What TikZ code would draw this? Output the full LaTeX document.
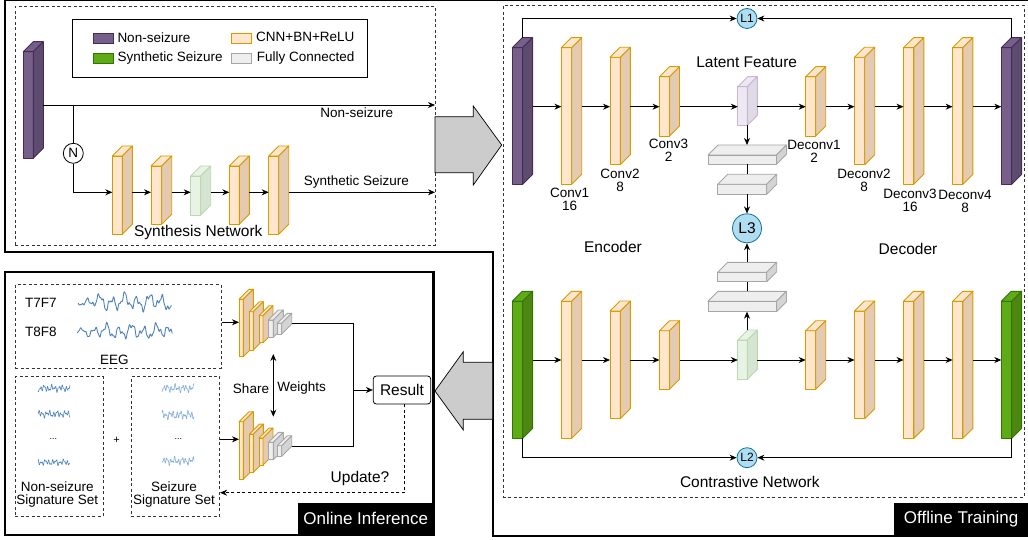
\documentclass[tikz,border=0pt]{standalone}
\usepackage{fontspec}
\setmainfont{Liberation Sans}
\usetikzlibrary{arrows.meta,fit,calc}
\definecolor{purF}{HTML}{76608A}\definecolor{purS}{HTML}{5E4C6E}\definecolor{purD}{HTML}{432D57}
\definecolor{grnF}{HTML}{60A917}\definecolor{grnS}{HTML}{4D8712}\definecolor{grnD}{HTML}{2D7600}
\definecolor{orF}{HTML}{FFE6CC}\definecolor{orS}{HTML}{E3CAB0}\definecolor{orD}{HTML}{D79B00}
\definecolor{fcF}{HTML}{EEEEEE}\definecolor{fcS}{HTML}{D4D4D4}\definecolor{fcD}{HTML}{A6A6A6}
\definecolor{lpF}{HTML}{EEE8F2}\definecolor{lpS}{HTML}{E0DAE4}\definecolor{lpD}{HTML}{C8B4D6}
\definecolor{lgF}{HTML}{E8F3E5}\definecolor{lgS}{HTML}{D6E4D2}\definecolor{lgD}{HTML}{B9DAAE}
\definecolor{lossF}{HTML}{B1DDF0}\definecolor{lossD}{HTML}{10739E}
\definecolor{arrG}{HTML}{CCCCCC}
\definecolor{waveA}{HTML}{4F82BA}\definecolor{waveB}{HTML}{86AEDA}
\newcommand{\fs}{\fontsize{13.5}{13}\selectfont}
\newcommand{\fb}{\fontsize{15.5}{17}\selectfont}
\newcommand{\fl}{\fontsize{17}{19}\selectfont}
% cuboid: name, front, side, draw, x1, y1, x2, y2, depth
\newcommand{\cub}[9]{%
  \filldraw[fill=#2, draw=#4, line width=0.9pt, line join=round] (#5,#6) rectangle (#7,#8);
  \filldraw[fill=#2, draw=#4, line width=0.9pt, line join=round] (#5,#6) -- ({#5+#9},{#6-#9}) -- ({#7+#9},{#6-#9}) -- (#7,#6) -- cycle;
  \filldraw[fill=#3, draw=#4, line width=0.9pt, line join=round] (#7,#6) -- ({#7+#9},{#6-#9}) -- ({#7+#9},{#8-#9}) -- (#7,#8) -- cycle;
  \node[fit={(#5,{#6-#9}) ({#7+#9},#8)}, inner sep=0pt, outer sep=0pt] (#1) {};
}
% EEG wave: x0, y0, width, amp, phase, color, lw
\newcommand{\wav}[7]{%
  \draw[#6, line width=#7, line join=round] plot[domain=0:#3, samples=240] ({#1+\x},{#2+#4*min(1,0.35+\x/40)*(0.6*sin(29*\x+#5)+0.3*sin(67*\x+3*#5)+0.25*sin(13*\x+2*#5)+0.12*sin(140*\x+#5))});
}
% small signature wave
\newcommand{\swav}[7]{%
  \draw[#6, line width=#7, line join=round] plot[domain=0:#3, samples=160] ({#1+\x},{#2+#4*(0.45*sin(97*\x+#5)+0.35*sin(173*\x+2*#5)+0.3*sin(41*\x+#5))});
}
\begin{document}
\begin{tikzpicture}[x=1pt,y=-1pt, font=\fs,
  arr/.style={-{Stealth[length=7pt,width=6pt]}, line width=0.8pt},
  conn/.style={line width=0.8pt},
  dbox/.style={draw=black!80, dash pattern=on 3pt off 2.5pt, line width=0.8pt},
  panel/.style={draw=black, line width=2.4pt, line join=miter},
  loss/.style={circle, draw=lossD, fill=lossF, line width=0.8pt, inner sep=0pt, minimum size=20pt, font=\fontsize{12}{12}\selectfont},
  lbl/.style={align=center, inner sep=0pt},
  big/.style={font=\fb, inner sep=0pt},
  tag/.style={fill=black, text=white, font=\fl, inner sep=0pt, anchor=north west},
  swatch/.style={line width=0.9pt, inner sep=0pt, minimum width=19.7pt, minimum height=10pt, anchor=north west}]
\useasboundingbox (0,0) rectangle (1028,540);

% ---------- panels ----------
\draw[panel] (5,0) -- (1032,0) -- (1032,536) -- (493,536) -- (493,252) -- (5,252) -- cycle;
\draw[panel] (5,271.7) rectangle (433.3,535);

% ---------- synthesis region ----------
\node[dbox, minimum width=420pt, minimum height=239pt, anchor=north west, inner sep=0pt] (synbox) at (15,6) {};
\node[draw=black, line width=0.8pt, minimum width=294.4pt, minimum height=57.7pt, anchor=north west, inner sep=0pt] (legend) at (72.3,19) {};
\node[swatch, fill=purF, draw=purD] (lg1) at (93,33.3) {};
\node[swatch, fill=grnF, draw=grnD] (lg2) at (93,53.3) {};
\node[swatch, fill=orF, draw=orD] (lg3) at (231,33.3) {};
\node[swatch, fill=fcF, draw=fcD] (lg4) at (231,53.3) {};
\node[anchor=west, inner sep=0pt] (lt1) at (117.3,37.3) {Non-seizure};
\node[anchor=west, inner sep=0pt] (lt2) at (117.3,57.8) {Synthetic Seizure};
\node[anchor=west, inner sep=0pt] (lt3) at (256,37.3) {CNN+BN+ReLU};
\node[anchor=west, inner sep=0pt] (lt4) at (256.7,57.8) {Fully Connected};

\cub{sin}{purF}{purS}{purD}{23.3}{51.7}{33.3}{158.3}{10}
\cub{s1}{orF}{orS}{orD}{112.3}{156}{122.3}{234.3}{10}
\cub{s2}{orF}{orS}{orD}{151}{166}{161.7}{224.3}{10}
\cub{s3}{lgF}{lgS}{lgD}{190.7}{176}{200.7}{215}{10}
\cub{s4}{orF}{orS}{orD}{229.3}{166}{239.3}{224.3}{10}
\cub{s5}{orF}{orS}{orD}{268.7}{156}{278.7}{234.3}{10}

\coordinate (sy1) at (0,105);
\coordinate (sy2) at (0,192.3);
\coordinate (br) at (73.3,105);
\coordinate (oNS) at (435,105);
\coordinate (oSS) at (435,192.3);
\node[circle, draw, fill=white, line width=0.8pt, minimum size=20pt, inner sep=0pt] (N) at (73.3,153.3) {N};
\draw[arr] (sin.east |- sy1) -- (oNS);
\draw[conn] (br) -- (N.north);
\draw[arr] (N.south) |- (s1.west |- sy2);
\foreach \a/\b in {s1/s2,s2/s3,s3/s4,s4/s5} \draw[arr] (\a.east |- sy2) -- (\b.west |- sy2);
\draw[arr] (s5.east |- sy2) -- (oSS);
\node[lbl] (tNS) at (356.7,112.8) {Non-seizure};
\node[lbl] (tSS) at (356.3,182) {Synthetic Seizure};
\node[big] (tSN) at (198.3,232) {Synthesis Network};

% big arrows
\filldraw[fill=arrG, draw=black, line width=0.7pt, line join=miter] (435,116.7) -- (473.3,116.7) -- (473.3,106) -- (501.7,145) -- (473.3,185) -- (473.3,172.7) -- (435,172.7) -- cycle;
\filldraw[fill=arrG, draw=black, line width=0.7pt, line join=miter] (492.7,362.3) -- (463.3,362.3) -- (463.3,351.7) -- (435,391) -- (463.3,430) -- (463.3,419.3) -- (492.7,419.3) -- cycle;

% ---------- offline training ----------
\node[dbox, minimum width=521pt, minimum height=491.7pt, anchor=north west, inner sep=0pt] (offbox) at (502.5,5) {};

\cub{pin1}{purF}{purS}{purD}{512.3}{47.7}{522.6}{184.3}{10}
\cub{c1}{orF}{orS}{orD}{561.4}{47.7}{571.7}{184.3}{10}
\cub{c2}{orF}{orS}{orD}{610}{57.3}{620.4}{164.7}{10}
\cub{c3}{orF}{orS}{orD}{659.5}{76.7}{669.5}{136}{10}
\cub{lat1}{lpF}{lpS}{lpD}{737.8}{86.7}{747.4}{125.3}{10}
\cub{d1}{orF}{orS}{orD}{805.7}{76.7}{815.7}{136}{10}
\cub{d2}{orF}{orS}{orD}{854.5}{57.3}{864.7}{164.7}{10}
\cub{d3}{orF}{orS}{orD}{903.5}{47.7}{913.8}{184.3}{10}
\cub{d4}{orF}{orS}{orD}{952.6}{47.7}{962.9}{184.3}{10}
\cub{pout1}{purF}{purS}{purD}{1001.3}{47.7}{1011.6}{184.3}{10}

\cub{gin}{grnF}{grnS}{grnD}{512.3}{301.3}{522.6}{438.3}{10}
\cub{e1}{orF}{orS}{orD}{561.4}{301.3}{571.7}{438.3}{10}
\cub{e2}{orF}{orS}{orD}{610}{311}{620.4}{418.7}{10}
\cub{e3}{orF}{orS}{orD}{659.5}{330.7}{669.5}{389.3}{10}
\cub{lat2}{lgF}{lgS}{lgD}{737.8}{340}{747.4}{379.3}{10}
\cub{f1}{orF}{orS}{orD}{805.7}{330.7}{815.7}{389.3}{10}
\cub{f2}{orF}{orS}{orD}{854.5}{311}{864.7}{418.7}{10}
\cub{f3}{orF}{orS}{orD}{903.5}{301.3}{913.8}{438.3}{10}
\cub{f4}{orF}{orS}{orD}{952.6}{301.3}{962.9}{438.3}{10}
\cub{gout}{grnF}{grnS}{grnD}{1001.3}{301.3}{1011.6}{438.3}{10}

\cub{fa1}{fcF}{fcS}{fcD}{708}{155}{776.5}{164.3}{10}
\cub{fa2}{fcF}{fcS}{fcD}{717.7}{184.3}{766.7}{194.3}{10}
\cub{fb1}{fcF}{fcS}{fcD}{717.7}{272.3}{766.7}{281.7}{10}
\cub{fb2}{fcF}{fcS}{fcD}{708}{301.3}{776.5}{311.7}{10}

\coordinate (r1) at (0,106.7);
\coordinate (r2) at (0,360);
\foreach \a/\b in {pin1/c1,c1/c2,c2/c3,c3/lat1,lat1/d1,d1/d2,d2/d3,d3/d4,d4/pout1} \draw[arr] (\a.east |- r1) -- (\b.west |- r1);
\foreach \a/\b in {gin/e1,e1/e2,e2/e3,e3/lat2,lat2/f1,f1/f2,f2/f3,f3/f4,f4/gout} \draw[arr] (\a.east |- r2) -- (\b.west |- r2);

\node[loss] (L1) at (747,18.5) {L1};
\node[loss] (L2) at (747,457.7) {L2};
\node[loss, minimum size=29pt, font=\fb] (L3) at (747,228.3) {L3};
\draw[arr] (pin1.north) |- (L1.west);
\draw[arr] (pout1.north) |- (L1.east);
\draw[arr] (gin.south) |- (L2.west);
\draw[arr] (gout.south) |- (L2.east);
\draw[arr] (L3.north |- lat1.south) -- (L3.north |- fa1.north);
\draw[conn] (L3.north |- fa1.south) -- (L3.north |- fa2.north);
\draw[arr] (L3.north |- fa2.south) -- (L3.north);
\draw[arr] (L3.south |- fb1.north) -- (L3.south);
\draw[conn] (L3.south |- fb2.north) -- (L3.south |- fb1.south);
\draw[arr] (L3.south |- lat2.north) -- (L3.south |- fb2.south);

\node[lbl] (tc1) at (569.6,199) {Conv1\\16};
\node[lbl] (tc2) at (620,180) {Conv2\\8};
\node[lbl] (tc3) at (668.5,150.5) {Conv3\\2};
\node[lbl] (td1) at (814,151) {Deconv1\\2};
\node[lbl] (td2) at (864,180) {Deconv2\\8};
\node[lbl] (td3) at (910,200) {Deconv3\\16};
\node[lbl] (td4) at (965,201.5) {Deconv4\\8};
\node[big] (tlat) at (746.7,62) {Latent Feature};
\node[big] (tenc) at (613,247) {Encoder};
\node[big] (tdec) at (908,248.5) {Decoder};
\node[big] (tcon) at (749.8,482) {Contrastive Network};

\node[tag, minimum width=134.1pt, minimum height=32.7pt] (offtag) at (893.9,502.3) {Offline Training};

% ---------- online inference ----------
\node[dbox, minimum width=205.7pt, minimum height=83.4pt, anchor=north west, inner sep=0pt] (eeg) at (15,284.3) {};
\node[dbox, minimum width=87.7pt, minimum height=140pt, anchor=north west, inner sep=0pt] (sigN) at (15,376) {};
\node[dbox, minimum width=88.3pt, minimum height=140pt, anchor=north west, inner sep=0pt] (sigS) at (131,376) {};

\node[lbl] (tT7) at (40.8,303) {T7F7};
\node[lbl] (tT8) at (40.8,332) {T8F8};
\node[lbl] (tEEG) at (114.3,359.5) {EEG};
\wav{78.3}{302}{93}{9}{10}{waveA}{0.9pt}
\wav{77.3}{331.5}{95}{8}{140}{waveA}{0.9pt}

\swav{38}{388.3}{32}{4}{30}{waveA}{0.6pt}
\swav{38}{414}{32}{4}{200}{waveA}{0.6pt}
\swav{38}{462.3}{32}{3.5}{300}{waveA}{0.6pt}
\node[lbl, font=\fontsize{9}{9}\selectfont] (dN) at (53.3,439) {...};
\swav{162}{388.3}{32}{4.5}{80}{waveB}{0.6pt}
\swav{162}{415}{32}{5}{250}{waveB}{0.6pt}
\swav{162}{461}{32}{4.5}{120}{waveB}{0.6pt}
\node[lbl, font=\fontsize{9}{9}\selectfont] (dS) at (178.3,439) {...};
\node[lbl, font=\fontsize{11}{11}\selectfont] (plus) at (116.7,440) {+};
\node[lbl] (tsigN) at (57.3,494.5) {Non-seizure\\Signature Set};
\node[lbl] (tsigS) at (174,494.5) {Seizure\\Signature Set};

\cub{u1}{orF}{orS}{orD}{239}{299.3}{243.3}{356.7}{10}
\cub{u2}{orF}{orS}{orD}{249.3}{311.7}{253.3}{350}{10}
\cub{u3}{orF}{orS}{orD}{259}{315.7}{263}{342.7}{10}
\cub{u4}{fcF}{fcS}{fcD}{268.3}{320}{273.3}{337.3}{10}
\cub{u5}{fcF}{fcS}{fcD}{277.3}{323.3}{281.7}{334}{10}
\cub{v1}{orF}{orS}{orD}{239}{421.7}{243.3}{479.1}{10}
\cub{v2}{orF}{orS}{orD}{249.3}{434.1}{253.3}{472.4}{10}
\cub{v3}{orF}{orS}{orD}{259}{438.1}{263}{465.1}{10}
\cub{v4}{fcF}{fcS}{fcD}{268.3}{442.4}{273.3}{459.7}{10}
\cub{v5}{fcF}{fcS}{fcD}{277.3}{445.7}{281.7}{456.4}{10}

\coordinate (ya) at (0,322.3);
\coordinate (yb) at (0,439.3);
\draw[arr] (eeg.east |- ya) -- (u1.west |- ya);
\draw[arr] (sigS.east |- yb) -- (v1.west |- yb);

\node[draw, rounded corners=3pt, line width=0.8pt, minimum width=57.4pt, minimum height=28pt, inner sep=0pt, font=\fb] (res) at (402,390) {Result};
\coordinate (jn) at (353.3,390);
\draw[conn] (u5.east) -| (jn);
\draw[conn] (v5.east) -| (jn);
\draw[arr] (jn) -- (res.west);
\coordinate (sw1) at (273.3,354);
\coordinate (sw2) at (273.3,416.7);
\draw[{Stealth[length=7pt,width=6pt]}-{Stealth[length=7pt,width=6pt]}, line width=0.8pt] (sw1) -- (sw2);
\node[lbl] (tsh) at (251,388.5) {Share};
\node[lbl] (tw) at (301.7,388.5) {Weights};
\coordinate (upd) at (404.3,492.7);
\draw[arr, dash pattern=on 3pt off 2.5pt] (res.south -| upd) |- (sigS.east |- upd);
\node[big] (tup) at (360,478.5) {Update?};

\node[tag, minimum width=135.6pt, minimum height=32.7pt] (ontag) at (297.7,502.3) {Online Inference};
\end{tikzpicture}
\end{document}
